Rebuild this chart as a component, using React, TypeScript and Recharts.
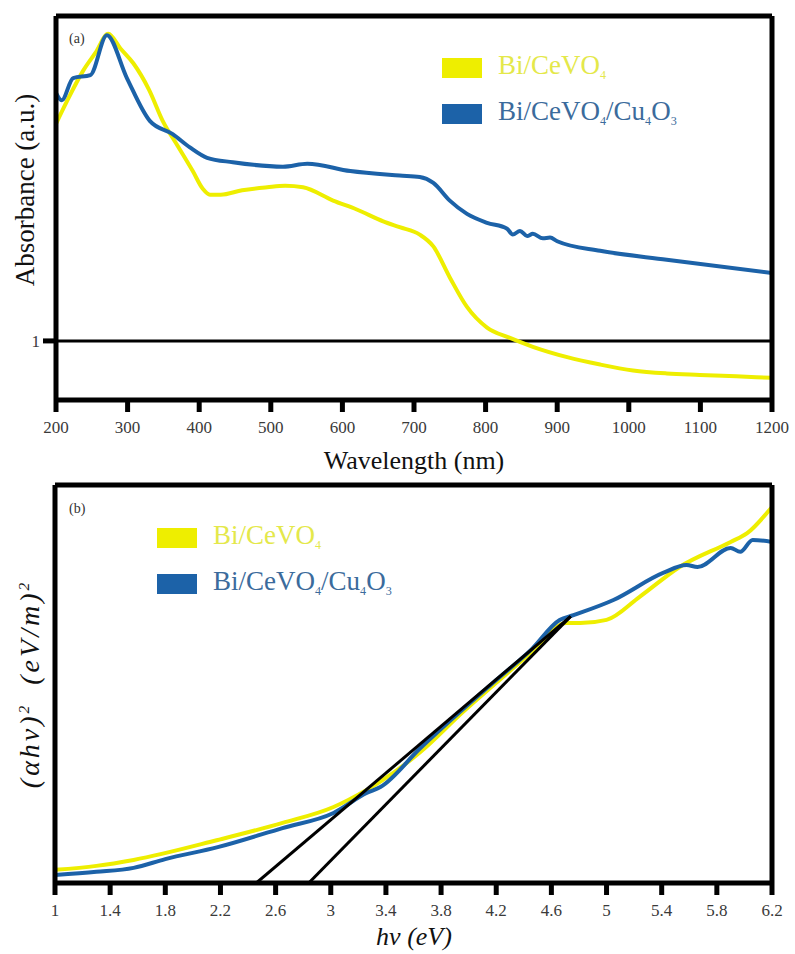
import React from 'react';
import { LineChart, Line, XAxis, YAxis, ReferenceLine, Legend } from 'recharts';

// (a) absorbance spectra (a.u.)
const cevoWl = [200, 215, 238, 255, 273, 290, 308, 330, 349, 370, 391, 405, 415, 430, 460, 495, 520, 545, 587, 620, 657, 680, 708, 727, 750, 774, 802, 834, 866, 914, 960, 1006, 1053, 1099, 1150, 1200];
const cevoAbs = [2.47, 2.62, 2.83, 2.95, 3.08, 2.98, 2.88, 2.7, 2.49, 2.32, 2.15, 2.03, 1.99, 1.99, 2.02, 2.04, 2.05, 2.04, 1.95, 1.89, 1.81, 1.77, 1.72, 1.64, 1.43, 1.23, 1.09, 1.02, 0.96, 0.89, 0.84, 0.8, 0.78, 0.77, 0.76, 0.75];

const cuWl = [200, 208, 224, 248, 271, 299, 331, 363, 387, 411, 447, 517, 551, 611, 680, 708, 727, 750, 774, 802, 830, 838, 848, 858, 866, 880, 890, 900, 960, 1053, 1200];
const cuAbs = [2.68, 2.63, 2.78, 2.8, 3.07, 2.78, 2.49, 2.4, 2.31, 2.24, 2.21, 2.18, 2.2, 2.15, 2.12, 2.11, 2.07, 1.95, 1.86, 1.8, 1.76, 1.72, 1.745, 1.71, 1.725, 1.695, 1.7, 1.675, 1.61, 1.55, 1.46];

const wlTicks = [200, 300, 400, 500, 600, 700, 800, 900, 1000, 1100, 1200];

// (b) Tauc plot
const cevoEv = [1.0, 1.3, 1.57, 2.18, 2.65, 3.02, 3.26, 3.36, 3.65, 3.96, 4.2, 4.45, 4.71, 4.81, 5.0, 5.24, 5.53, 5.9, 6.02, 6.2];
const cevoTauc = [0.33, 0.43, 0.58, 1.08, 1.51, 1.91, 2.34, 2.55, 3.29, 4.3, 5.03, 5.78, 6.53, 6.53, 6.61, 7.19, 7.94, 8.57, 8.79, 9.45];

const cuEv = [1.0, 1.3, 1.57, 1.8, 2.18, 2.65, 3.02, 3.26, 3.36, 3.65, 3.96, 4.2, 4.45, 4.66, 4.76, 5.05, 5.41, 5.58, 5.66, 5.9, 5.97, 6.06, 6.2];
const cuTauc = [0.2, 0.28, 0.38, 0.6, 0.9, 1.38, 1.76, 2.26, 2.41, 3.39, 4.37, 5.1, 5.85, 6.61, 6.73, 7.11, 7.79, 7.99, 7.94, 8.42, 8.32, 8.62, 8.57];

// band gap extrapolation lines
const fitAEv = [2.46, 4.74];
const fitAVal = [0, 6.7];
const fitBEv = [2.84, 4.74];
const fitBVal = [0, 6.7];

const evTicks = [1, 1.4, 1.8, 2.2, 2.6, 3, 3.4, 3.8, 4.2, 4.6, 5, 5.4, 5.8, 6.2];

const names = ['Bi/CeVO4', 'Bi/CeVO4/Cu4O3'];

const toRows = (xs: number[], ys: number[]) => xs.map((x, i) => ({ x, y: ys[i] }));

const serif = '"Liberation Serif", "Times New Roman", "DejaVu Serif", serif';
const YELLOW = '#eeee00';
const BLUE = '#1c62a8';
const legendText: Record<string, string> = { [names[0]]: '#e4e84a', [names[1]]: '#3b6b9c' };

const formula = (name: string) =>
  name.split(/(\d+)/).map((part, i) =>
    /^\d+$/.test(part) ? (
      <span key={i} style={{ fontSize: '0.45em', position: 'relative', top: '0.45em' }}>{part}</span>
    ) : (
      <span key={i}>{part}</span>
    )
  );

const LegendBox = ({ payload }: any) => (
  <div style={{ fontFamily: serif }}>
    {(payload || [])
      .filter((p: any) => p.type !== 'none')
      .map((p: any) => (
        <div key={p.value} style={{ display: 'flex', alignItems: 'center', height: 46 }}>
          <div style={{ width: 40, height: 20, background: p.color, marginRight: 16 }} />
          <div style={{ fontSize: 27, lineHeight: '27px', color: legendText[p.value], whiteSpace: 'nowrap' }}>
            {formula(p.value)}
          </div>
        </div>
      ))}
  </div>
);

const tickStyle = { fontFamily: serif, fontSize: 17, fill: '#3a3a3a' };
const frame = { stroke: '#000', strokeWidth: 5 };

const abs = (text: string, style: React.CSSProperties) => (
  <div style={{ position: 'absolute', fontFamily: serif, color: '#111', whiteSpace: 'nowrap', ...style }}>{text}</div>
);

const PanelA = () => (
  <LineChart width={795} height={475} margin={{ top: 14, right: 21, left: 0, bottom: 0 }} style={{ fontFamily: serif }}>
    <XAxis
      dataKey="x"
      type="number"
      domain={[200, 1200]}
      ticks={wlTicks}
      allowDataOverflow
      height={75}
      axisLine={frame}
      tickLine={{ stroke: '#000', strokeWidth: 5 }}
      tickSize={12}
      tickMargin={9}
      tick={tickStyle}
    />
    <XAxis xAxisId="top" orientation="top" type="number" domain={[200, 1200]} height={2} tick={false} tickLine={false} axisLine={frame} />
    <YAxis
      type="number"
      domain={[0.6, 3.2]}
      ticks={[1]}
      allowDataOverflow
      width={56}
      axisLine={frame}
      tickLine={{ stroke: '#000', strokeWidth: 5 }}
      tickSize={13}
      tickMargin={3}
      tick={tickStyle}
    />
    <YAxis yAxisId="right" orientation="right" type="number" domain={[0, 1]} width={2} tick={false} tickLine={false} axisLine={frame} />
    <ReferenceLine y={1} stroke="#000" strokeWidth={3} />
    <Legend
      layout="horizontal"
      verticalAlign="middle"
      align="center"
      content={<LegendBox />}
      wrapperStyle={{ left: 442, top: 45, width: 'auto' }}
    />
    <Line data={toRows(cevoWl, cevoAbs)} dataKey="y" name={names[0]} type="monotone" stroke={YELLOW} strokeWidth={4} dot={false} isAnimationActive={false} />
    <Line data={toRows(cuWl, cuAbs)} dataKey="y" name={names[1]} type="monotone" stroke={BLUE} strokeWidth={4} dot={false} isAnimationActive={false} />
  </LineChart>
);

const PanelB = () => (
  <LineChart width={795} height={479} margin={{ top: 8, right: 21, left: 0, bottom: 0 }} style={{ fontFamily: serif }}>
    <XAxis
      dataKey="x"
      type="number"
      domain={[1, 6.2]}
      ticks={evTicks}
      allowDataOverflow
      height={71}
      axisLine={frame}
      tickLine={{ stroke: '#000', strokeWidth: 5 }}
      tickSize={12}
      tickMargin={9}
      tick={tickStyle}
    />
    <XAxis xAxisId="top" orientation="top" type="number" domain={[1, 6.2]} height={2} tick={false} tickLine={false} axisLine={frame} />
    <YAxis type="number" domain={[0, 10]} allowDataOverflow width={55} axisLine={frame} tick={false} tickLine={false} />
    <YAxis yAxisId="right" orientation="right" type="number" domain={[0, 1]} width={2} tick={false} tickLine={false} axisLine={frame} />
    <Legend
      layout="horizontal"
      verticalAlign="middle"
      align="center"
      content={<LegendBox />}
      wrapperStyle={{ left: 157, top: 40, width: 'auto' }}
    />
    <Line data={toRows(cevoEv, cevoTauc)} dataKey="y" name={names[0]} type="monotone" stroke={YELLOW} strokeWidth={4} dot={false} isAnimationActive={false} />
    <Line data={toRows(cuEv, cuTauc)} dataKey="y" name={names[1]} type="monotone" stroke={BLUE} strokeWidth={4} dot={false} isAnimationActive={false} />
    <Line data={toRows(fitAEv, fitAVal)} dataKey="y" name="fitA" legendType="none" type="linear" stroke="#000" strokeWidth={3} dot={false} isAnimationActive={false} />
    <Line data={toRows(fitBEv, fitBVal)} dataKey="y" name="fitB" legendType="none" type="linear" stroke="#000" strokeWidth={3} dot={false} isAnimationActive={false} />
  </LineChart>
);

export default function App() {
  return (
    <div style={{ position: 'absolute', left: 0, top: 0, width: 795, height: 954, overflow: 'hidden', background: '#fff', fontFamily: serif }}>
      <div style={{ position: 'absolute', left: 0, top: 0 }}>
        <PanelA />
      </div>
      <div style={{ position: 'absolute', left: 0, top: 475 }}>
        <PanelB />
      </div>
      {abs('(a)', { left: 69, top: 31, fontSize: 14, color: '#333' })}
      {abs('(b)', { left: 69, top: 501, fontSize: 14, color: '#333' })}
      {abs('Absorbance (a.u.)', { left: 25, top: 190, fontSize: 27, transform: 'translate(-50%, -50%) rotate(-90deg)' })}
      {abs('Wavelength (nm)', { left: 414, top: 446, fontSize: 26, transform: 'translateX(-50%)' })}
      <div
        style={{
          position: 'absolute',
          left: 30,
          top: 684,
          fontFamily: serif,
          fontStyle: 'italic',
          fontSize: 28,
          letterSpacing: 3,
          wordSpacing: 8,
          color: '#111',
          whiteSpace: 'nowrap',
          transform: 'translate(-50%, -50%) rotate(-90deg)',
        }}
      >
        (αhν)<sup style={{ fontSize: '0.55em' }}>2</sup> (eV/m)<sup style={{ fontSize: '0.55em' }}>2</sup>
      </div>
      <div
        style={{
          position: 'absolute',
          left: 414,
          top: 922,
          fontFamily: serif,
          fontStyle: 'italic',
          fontSize: 26,
          lineHeight: '30px',
          color: '#111',
          whiteSpace: 'nowrap',
          transform: 'translateX(-50%)',
        }}
      >
        hν (eV)
      </div>
    </div>
  );
}
